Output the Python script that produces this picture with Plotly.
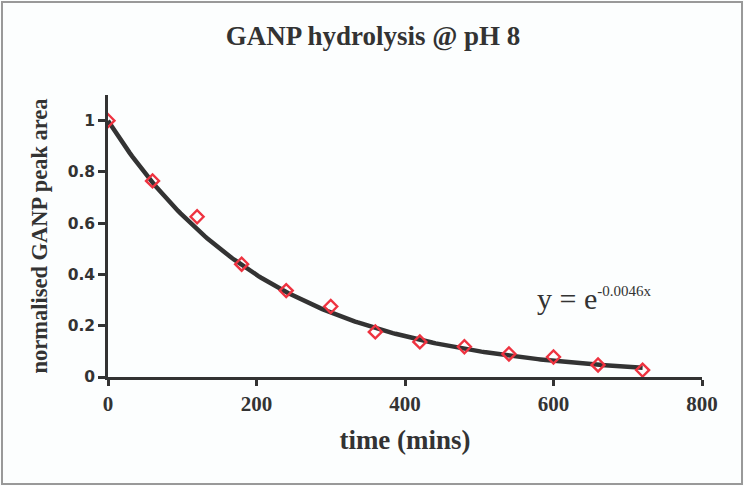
import numpy as np
import plotly.graph_objects as go

# data
time_mins = [0, 60, 120, 180, 240, 300, 360, 420, 480, 540, 600, 660, 720]
peak_area = [1.0, 0.765, 0.625, 0.44, 0.337, 0.275, 0.176, 0.137, 0.118, 0.09, 0.078, 0.047, 0.027]
rate_k = 0.0046
x_ticks = [0, 200, 400, 600, 800]
y_ticks = [0, 0.2, 0.4, 0.6, 0.8, 1]
y_tick_labels = ["0", "0.2", "0.4", "0.6", "0.8", "1"]

fit_x = np.linspace(0, max(time_mins), 200)
fit_y = np.exp(-rate_k * fit_x)

W, H = 744, 486
L, R, T, B = 108, 42, 95, 109
pw, ph = W - L - R, H - T - B

def px(xp):
    return (xp - L) / pw

def py(yp):
    return (H - B - yp) / ph

INK = "#333333"

fig = go.Figure()
fig.add_trace(go.Scatter(x=fit_x, y=fit_y, mode="lines",
                         line=dict(color=INK, width=4.5), hoverinfo="skip"))
fig.add_trace(go.Scatter(x=time_mins, y=peak_area, mode="markers",
                         marker=dict(symbol="diamond-open", size=10, color="#ee3340",
                                     line=dict(width=2.4, color="#ee3340"))))

fig.update_layout(
    width=W, height=H,
    margin=dict(l=L, r=R, t=T, b=B),
    paper_bgcolor="#fcfefe", plot_bgcolor="#fcfefe",
    showlegend=False,
    title=dict(text="<b>GANP hydrolysis @ pH 8</b>", x=373 / W, xanchor="center",
               y=1 - 36 / H, yanchor="middle",
               font=dict(family="Liberation Serif", size=27, color=INK)),
    xaxis=dict(range=[0, 800], tickvals=x_ticks, ticktext=[f"<b>{t}</b>" for t in x_ticks],
               showline=True, linecolor=INK, linewidth=2.5,
               ticks="outside", ticklen=6, tickwidth=2.5, tickcolor=INK, showgrid=False,
               zeroline=False,
               tickfont=dict(family="Liberation Serif", size=21, color=INK),
               title=dict(text="<b>time (mins)</b>", standoff=16,
                          font=dict(family="Liberation Serif", size=27, color=INK))),
    yaxis=dict(range=[0, 1.1], tickvals=y_ticks, ticktext=[f"<b>{t}</b>" for t in y_tick_labels],
               showline=True, linecolor=INK, linewidth=2.5,
               ticks="outside", ticklen=7, tickwidth=2.5, tickcolor=INK, showgrid=False,
               zeroline=False,
               tickfont=dict(family="DejaVu Sans", size=15.5, color=INK),
               title=dict(text="<b>normalised GANP peak area</b>", standoff=14,
                          font=dict(family="Liberation Serif", size=22.5, color=INK))),
)

fig.add_annotation(x=px(535) * 800, y=0.305, xref="x", yref="y", xanchor="left", yanchor="middle",
                   text="y = e<sup><span style='font-size:15px'>-0.0046x</span></sup>", showarrow=False,
                   font=dict(family="Liberation Serif", size=30, color=INK))

fig.add_shape(type="rect", xref="paper", yref="paper",
              x0=px(2), x1=px(742), y0=py(484), y1=py(2),
              line=dict(color="#999999", width=2), layer="below")

fig.write_html("out.html", config={"displayModeBar": False},
               post_script="document.body.style.margin='0';document.body.style.overflow='hidden';")
